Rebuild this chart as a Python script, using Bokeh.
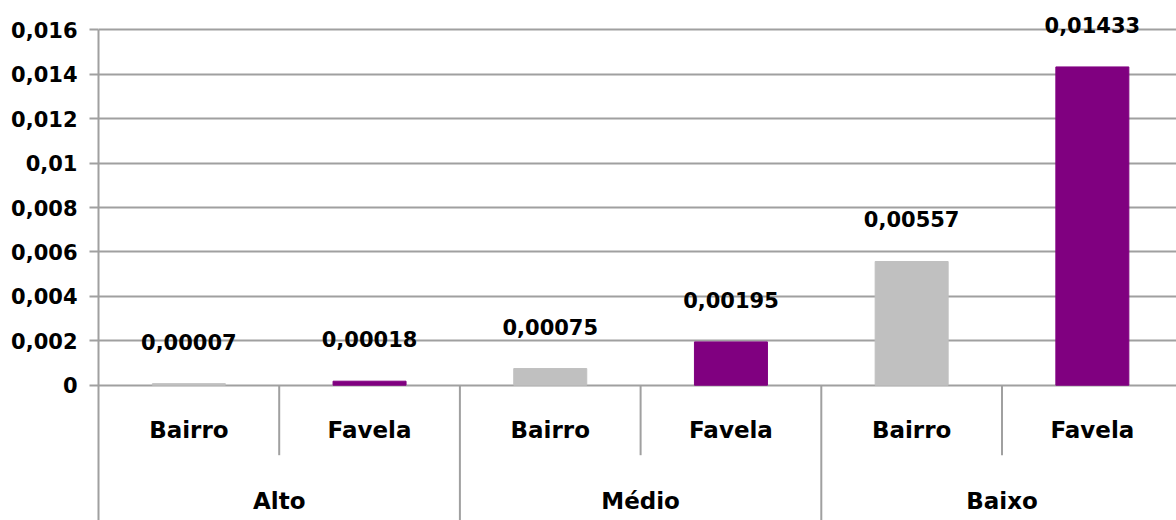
from bokeh.plotting import figure
from bokeh.models import Range1d, FixedTicker, ColumnDataSource
from bokeh.core.properties import value
from bokeh.embed import file_html
from bokeh.resources import INLINE

# ---- data ----
groups = ["Alto", "Médio", "Baixo"]
subcats = ["Bairro", "Favela"]
bairro = [0.00007, 0.00075, 0.00557]
favela = [0.00018, 0.00195, 0.01433]
tick_values = [0, 0.002, 0.004, 0.006, 0.008, 0.01, 0.012, 0.014, 0.016]
tick_labels = ["0", "0,002", "0,004", "0,006", "0,008", "0,01", "0,012", "0,014", "0,016"]
colors = {"Bairro": "#C0C0C0", "Favela": "#800080"}

# ---- layout constants (pixels) ----
W, H = 1176, 520
LEFT = 98
FRAME_W = W - LEFT
SLOT = 180.7
ZERO_PX = 384.7          # distance from frame top to y=0
PX_PER_UNIT = 22210.0
YMAX = ZERO_PX / PX_PER_UNIT
YMIN = -(H - ZERO_PX) / PX_PER_UNIT
GRID = "#a0a0a0"
FONT = value("DejaVu Sans")

# build flat category table
xs, vals, cols, subs, lbls = [], [], [], [], []
for gi, g in enumerate(groups):
    for si, s in enumerate(subcats):
        v = (bairro if s == "Bairro" else favela)[gi]
        xs.append(gi * 2 + si + 0.5)
        vals.append(v)
        cols.append(colors[s])
        subs.append(s)
        lbls.append(f"{v:.5f}".replace(".", ","))
src = ColumnDataSource(dict(x=xs, top=vals, color=cols, sub=subs, lbl=lbls))

p = figure(width=W, height=H, output_backend="svg", toolbar_location=None,
           x_range=Range1d(0, FRAME_W / SLOT), y_range=Range1d(YMIN, YMAX),
           min_border_left=LEFT, min_border_right=0, min_border_top=0, min_border_bottom=0,
           x_axis_type=None)
p.outline_line_color = None
p.background_fill_color = "white"
p.border_fill_color = "white"

# y axis
yt = FixedTicker(ticks=tick_values)
p.yaxis.ticker = yt
p.yaxis.major_label_overrides = {t: l for t, l in zip(tick_values, tick_labels)}
p.yaxis.bounds = (YMIN, tick_values[-1])
p.yaxis.axis_line_color = GRID
p.yaxis.axis_line_width = 2
p.yaxis.major_tick_line_color = GRID
p.yaxis.major_tick_line_width = 2
p.yaxis.major_tick_out = 9
p.yaxis.major_tick_in = 0
p.yaxis.minor_tick_line_color = None
p.yaxis.major_label_standoff = 12
p.yaxis.major_label_text_font = "DejaVu Sans"
p.yaxis.major_label_text_font_style = "bold"
p.yaxis.major_label_text_font_size = "21px"
p.yaxis.major_label_text_color = "black"

p.ygrid.ticker = yt
p.ygrid.grid_line_color = GRID
p.ygrid.grid_line_width = 2
p.xgrid.grid_line_color = None

# bars
p.vbar(x="x", top="top", bottom=0, width=0.404, color="color", source=src)

# value labels
p.text(x="x", y="top", text="lbl", source=src, y_offset=-42,
       text_font=FONT, text_font_style="bold", text_font_size="21px",
       text_align="center", text_baseline="middle", text_color="black")

# sub-category labels
p.text(x="x", y=0, text="sub", source=src, y_offset=45,
       text_font=FONT, text_font_style="bold", text_font_size="23px",
       text_align="center", text_baseline="middle", text_color="black")

# group labels
gsrc = ColumnDataSource(dict(x=[gi * 2 + 1 for gi in range(len(groups))], g=groups))
p.text(x="x", y=0, text="g", source=gsrc, y_offset=116,
       text_font=FONT, text_font_style="bold", text_font_size="23px",
       text_align="center", text_baseline="middle", text_color="black")

# separators
short_y = -70 / PX_PER_UNIT
inner = [gi * 2 + 1 for gi in range(len(groups))]
outer = [gi * 2 for gi in range(1, len(groups))]
p.segment(x0=inner, y0=[0] * len(inner), x1=inner, y1=[short_y] * len(inner),
          line_color=GRID, line_width=2)
p.segment(x0=outer, y0=[0] * len(outer), x1=outer, y1=[YMIN] * len(outer),
          line_color=GRID, line_width=2)

open("out.html", "w").write(file_html(p, INLINE))
